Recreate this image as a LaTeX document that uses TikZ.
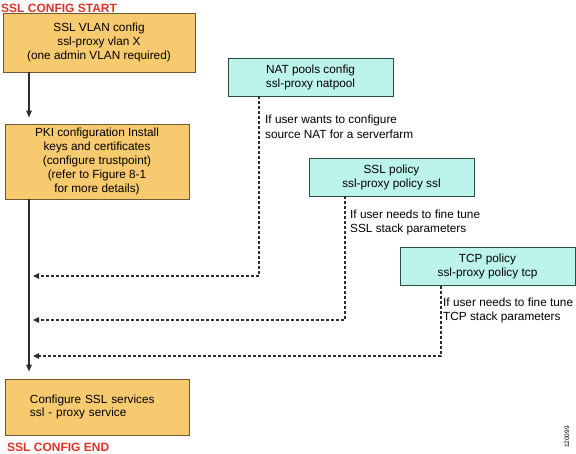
\documentclass[tikz,border=0pt]{standalone}
\usepackage{fontspec}
\setmainfont{Liberation Sans}
\usetikzlibrary{arrows.meta}
\definecolor{ofill}{RGB}{248,202,112}
\definecolor{oedge}{RGB}{110,88,50}
\definecolor{cfill}{RGB}{188,243,235}
\definecolor{cedge}{RGB}{40,78,72}
\definecolor{redlbl}{RGB}{222,50,40}
\definecolor{lgray}{RGB}{45,45,45}
\begin{document}
\begin{tikzpicture}[x=1pt,y=-1pt,
 obox/.style={draw=oedge, fill=ofill, line width=0.9pt, inner sep=0pt, align=center, font=\fontsize{11.8}{13.8}\selectfont},
 cbox/.style={draw=cedge, fill=cfill, line width=0.9pt, inner sep=0pt, align=center, minimum width=165pt, minimum height=38pt, font=\fontsize{11.8}{14}\selectfont},
 note/.style={anchor=north west, align=left, inner sep=0pt, font=\fontsize{11.8}{14.5}\selectfont},
 ttl/.style={text=redlbl, font=\bfseries\fontsize{12}{14}\selectfont, inner sep=0pt, anchor=west},
 flow/.style={draw=lgray, line width=1.3pt, -{Triangle[length=7pt,width=5.5pt]}},
 opt/.style={draw=lgray, line width=1.1pt, dash pattern=on 3pt off 2pt, -{Triangle[length=6pt,width=5.5pt]}},
]
\useasboundingbox (0,0) rectangle (576,454);
\node[ttl] (start) at (1,8.5) {SSL CONFIG START};
\node[obox, minimum width=192pt, minimum height=59pt] (vlan) at (99,42.5) {SSL VLAN config\\ssl-proxy vlan X\\(one admin VLAN required)};
\node[obox, minimum width=184pt, minimum height=75pt] (pki) at (97,161.5) {PKI configuration Install\\keys and certificates\\(configure trustpoint)\\(refer to Figure 8-1\\for more details)};
\node[obox, minimum width=184pt, minimum height=56pt, text width=134pt, align=left] (svc) at (97,407) {Configure SSL services\\ssl - proxy service};
\node[ttl] (end) at (7,447) {SSL CONFIG END};

\node[cbox] (nat) at (310.5,77) {NAT pools config\\ssl-proxy natpool};
\node[cbox] (sslp) at (391.5,177) {SSL policy\\ssl-proxy policy ssl};
\node[cbox, minimum width=175pt] (tcp) at (487.5,266.5) {TCP policy\\ssl-proxy policy tcp};

\node[note] (n1) at (265,115) {If user wants to configure\\source NAT for a serverfarm};
\node[note] (n2) at (350,209.5) {If user needs to fine tune\\SSL stack parameters};
\node[note] (n3) at (443,297.5) {If user needs to fine tune\\TCP stack parameters};

\coordinate (spine) at (29,0);
\draw[flow, shorten >=6pt] (vlan.south -| spine) -- (pki.north -| spine);
\draw[flow, shorten >=7pt] (pki.south -| spine) -- (svc.north -| spine);

\coordinate (j1) at (33,276);
\coordinate (j2) at (33,320);
\coordinate (j3) at (33,356);
\draw[opt] ([xshift=-51.5pt]nat.south) |- (j1);
\draw[opt] ([xshift=-46.5pt]sslp.south) |- (j2);
\draw[opt] ([xshift=-46.5pt]tcp.south) |- (j3);

\node[rotate=90, font=\fontsize{6.5}{7}\selectfont, inner sep=0pt] (id) at (567,437) {120099};
\end{tikzpicture}
\end{document}
